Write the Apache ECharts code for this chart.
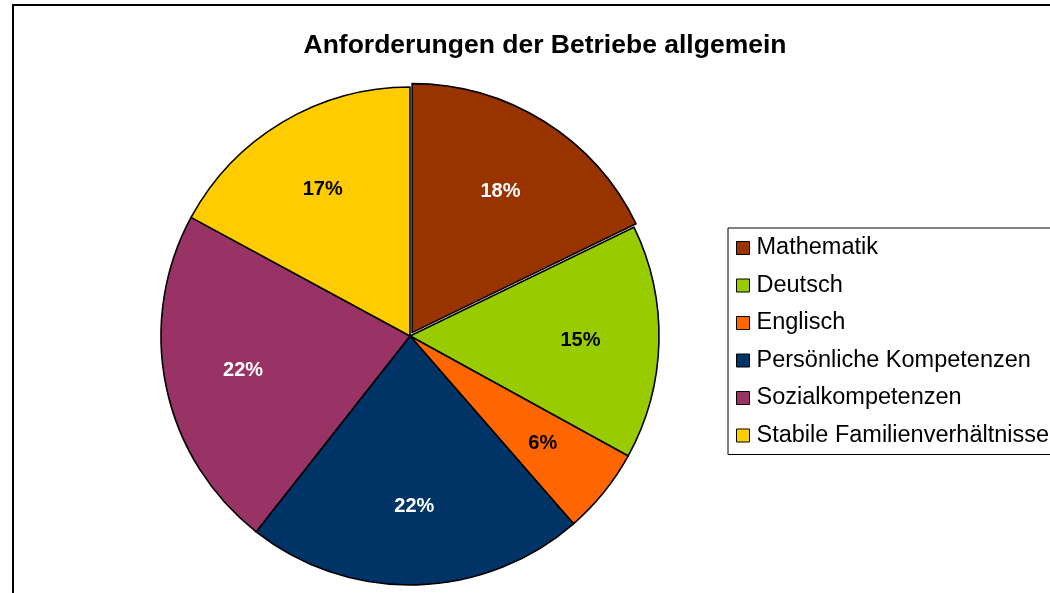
<!DOCTYPE html>
<html>
<head>
<meta charset="utf-8">
<script src="https://cdn.jsdelivr.net/npm/echarts@6/dist/echarts.min.js"></script>
<style>
  html, body { margin: 0; padding: 0; background: #fff; }
  #chart { width: 1050px; height: 593px; }
</style>
</head>
<body>
<div id="chart"></div>
<script>
// slice data (percent shares)
const categories = [
  "Mathematik",
  "Deutsch",
  "Englisch",
  "Persönliche Kompetenzen",
  "Sozialkompetenzen",
  "Stabile Familienverhältnisse"
];
const shares = [17.8, 15.2, 5.6, 22.0, 22.3, 17.1];
const colors = ["#993300", "#99cc00", "#ff6600", "#003366", "#993366", "#ffcc00"];
const labelColors = ["#fff", "#000", "#000", "#fff", "#fff", "#000"];

const chart = echarts.init(document.getElementById("chart"));

const center = [410, 336];
const R = 249;

chart.setOption({
  animation: false,
  title: {
    text: "Anforderungen der Betriebe allgemein",
    left: 540,
    top: 27,
    textAlign: "center",
    textStyle: {
      fontFamily: "Liberation Sans",
      fontSize: 26.5,
      fontWeight: "bold",
      color: "#000"
    }
  },
  legend: {
    orient: "vertical",
    left: 728,
    top: 228,
    padding: [8, 12, 7, 8],
    itemGap: 13.5,
    itemWidth: 13,
    itemHeight: 13,
    icon: "rect",
    borderColor: "#000",
    borderWidth: 1,
    borderRadius: 0,
    itemStyle: { borderColor: "#000", borderWidth: 1 },
    textStyle: { fontFamily: "Liberation Sans", fontSize: 23.5, color: "#000", padding: [0, 0, 0, 2] },
    data: categories,
    selectedMode: false
  },
  graphic: [
    {
      type: "rect",
      shape: { x: 13, y: 5, width: 1200, height: 800 },
      style: { fill: "none", stroke: "#000", lineWidth: 2 },
      silent: true,
      z: -10
    }
  ],
  series: [
    {
      type: "pie",
      center: center,
      radius: [0, R],
      startAngle: 90,
      clockwise: true,
      selectedMode: "single",
      selectedOffset: 4,
      label: { show: false },
      labelLine: { show: false },
      emphasis: { disabled: true },
      itemStyle: { borderColor: "#000", borderWidth: 1.6 },
      data: categories.map((name, i) => ({
        name: name,
        value: shares[i],
        selected: i === 0,
        itemStyle: { color: colors[i] }
      }))
    },
    {
      // transparent overlay, only here to place the percent labels further out
      type: "pie",
      center: center,
      radius: [86, R],
      startAngle: 90,
      clockwise: true,
      silent: true,
      emphasis: { disabled: true },
      labelLine: { show: false },
      label: {
        show: true,
        position: "inside",
        formatter: "{d}%",
        fontFamily: "Liberation Sans",
        fontSize: 20,
        fontWeight: "bold"
      },
      percentPrecision: 0,
      itemStyle: { color: "rgba(0,0,0,0)", borderWidth: 0 },
      data: categories.map((name, i) => ({
        name: name,
        value: shares[i],
        label: { color: labelColors[i] }
      }))
    }
  ]
});
</script>
</body>
</html>
